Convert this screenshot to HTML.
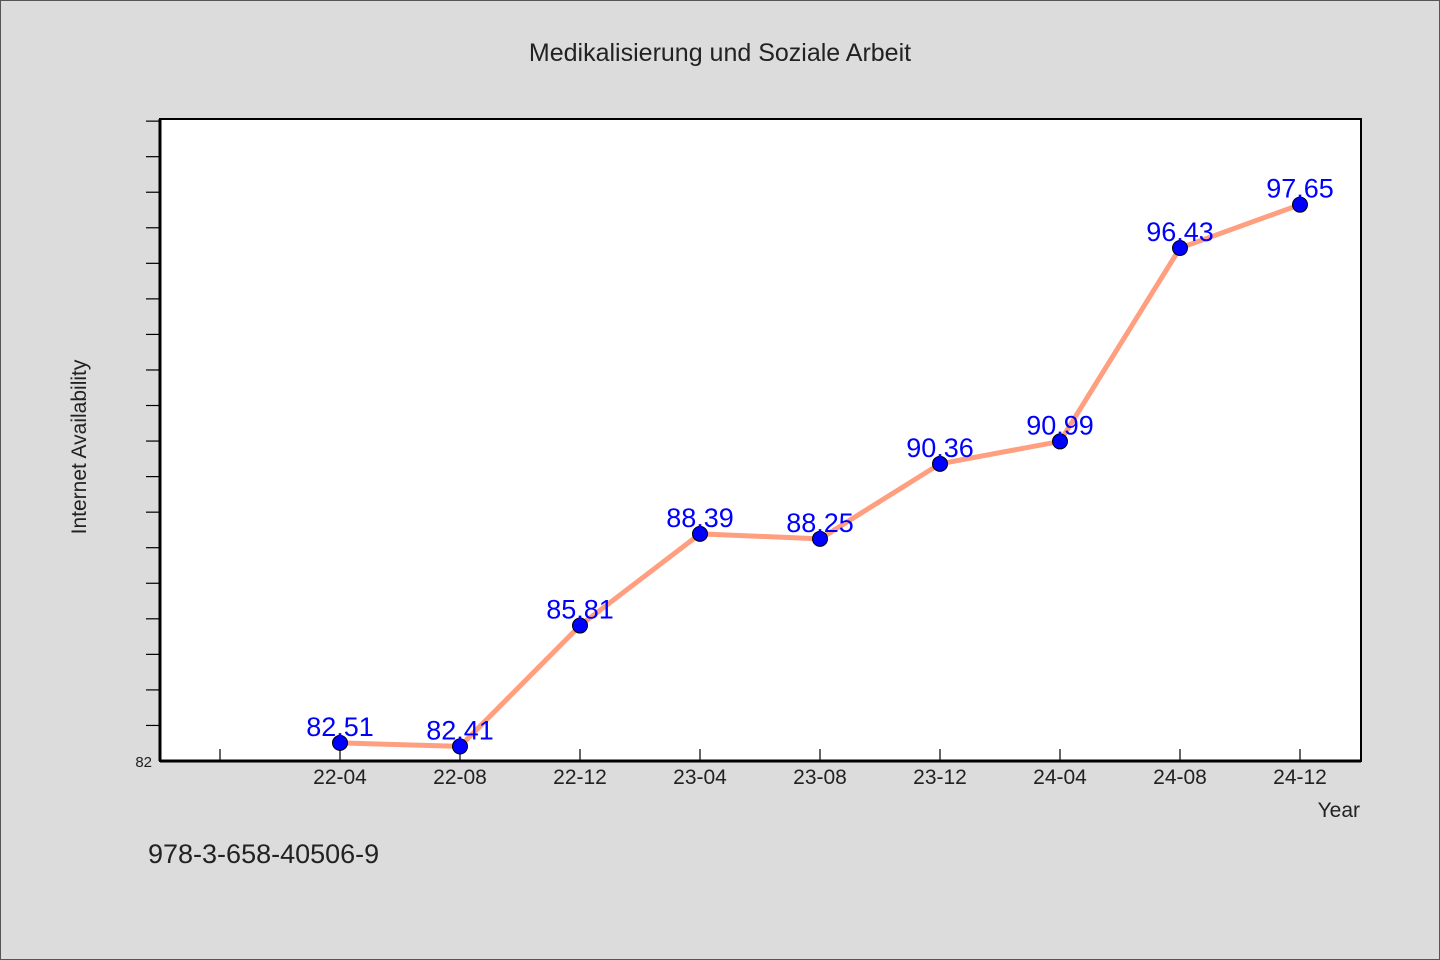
<!DOCTYPE html>
<html><head><meta charset="utf-8"><style>
html,body{margin:0;padding:0;background:#dcdcdc;}
svg{display:block;font-family:"WenQuanYi Zen Hei","Liberation Sans",sans-serif;}
</style></head><body>
<svg id="c" width="1440" height="960">
<rect x="0.5" y="0.5" width="1439" height="959" fill="#dcdcdc" stroke="#555"/>
<text x="720" y="61" text-anchor="middle" font-size="25" fill="#222">Medikalisierung und Soziale Arbeit</text>
<rect x="160" y="119" width="1201" height="642" fill="#fff" stroke="#000" stroke-width="2"/>
<g id="ticks"></g>
<g id="series"></g>
<text transform="translate(86,447) rotate(-90)" text-anchor="middle" font-size="21" fill="#222">Internet Availability</text>
<text x="1360" y="817" text-anchor="end" font-size="21" fill="#222">Year</text>
<text x="148" y="863" font-size="27" fill="#222">978-3-658-40506-9</text>
</svg>
<script>
const categories = ["", "22-04","22-08","22-12","23-04","23-08","23-12","24-04","24-08","24-12"];
const values = [null, 82.51,82.41,85.81,88.39,88.25,90.36,90.99,96.43,97.65];
const yMin = 82, yMax = 100.06;
const NS="http://www.w3.org/2000/svg";
const L=160,R=1361,T=119,B=761;
const bw=(R-L)/(categories.length);
function xs(i){return L+60+i*120;}
function ys(v){return B-(v-yMin)/(yMax-yMin)*(B-T);}
const tg=document.getElementById('ticks'), sg=document.getElementById('series');
function mk(tag,attrs,parent){const e=document.createElementNS(NS,tag);for(const k in attrs)e.setAttribute(k,attrs[k]);parent.appendChild(e);return e;}
for(let v=yMin+1;v<yMax;v++){
  const t=mk('line',{x1:L-1,x2:L-14,y1:ys(v),y2:ys(v),stroke:'#000','stroke-width':1.2},tg);
  
  
}
const yl=mk('text',{x:152,y:767,'text-anchor':'end','font-size':15,fill:'#222'},tg);
yl.textContent=String(yMin);


categories.forEach((c,i)=>{
  const t=mk('line',{x1:xs(i),x2:xs(i),y1:B,y2:B-12,stroke:'#000','stroke-width':1.2},tg);
  
  
  if(c){const l=mk('text',{x:xs(i),y:784,'text-anchor':'middle','font-size':21,fill:'#222'},tg);
  l.textContent=c;
  
  }
});
mk('line',{x1:L,x2:R,y1:B,y2:B,stroke:'#000','stroke-width':3},tg);
mk('line',{x1:L,x2:L,y1:T,y2:B,stroke:'#000','stroke-width':3},tg);
let pts=[];values.forEach((v,i)=>{if(v!=null)pts.push(xs(i)+','+ys(v));});
const pl=mk('polyline',{points:pts.join(' '),fill:'none',stroke:'#ff9f7f','stroke-width':5,'stroke-linejoin':'round'},sg);


values.forEach((v,i)=>{if(v==null)return;
  const p=mk('circle',{cx:xs(i),cy:ys(v),r:7.5,fill:'#0000ff',stroke:'#000','stroke-width':1},sg);
  
  
  const t=mk('text',{x:xs(i),y:ys(v)-7,'text-anchor':'middle','font-size':27,fill:'#0000ff'},sg);
  t.textContent=v.toFixed(2);
  
  
});
</script>
</body></html>
